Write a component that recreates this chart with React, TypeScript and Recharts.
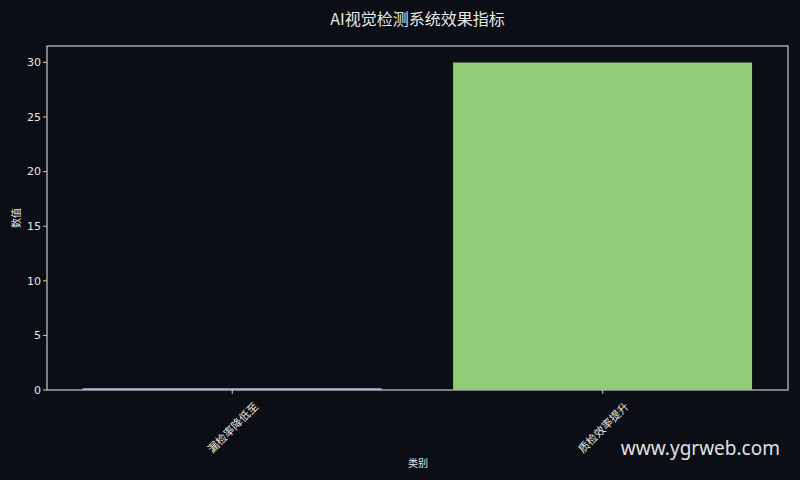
import React from "react";
import { BarChart, Bar, XAxis, YAxis, Cell } from "recharts";

const categories = ["漏检率降低至", "质检效率提升"];
const values = [0.15, 30];
const barColors = ["#a9b8ee", "#93cc77"];
const yTicks = [0, 5, 10, 15, 20, 25, 30];

const data = categories.map((name, i) => ({ name, value: values[i] }));

const BG = "#0b0e15";
const AXIS = "#c9c9c9";
const TEXT = "#e6e6e6";
const CJK = "'Noto Sans CJK SC', sans-serif";
const NUM = "'DejaVu Sans', 'Noto Sans CJK SC', sans-serif";

const XTick = (props: any) => {
  const { x, y, payload } = props;
  const cy = y + 31;
  return (
    <text
      x={x}
      y={cy}
      textAnchor="middle"
      dominantBaseline="central"
      fill={TEXT}
      fontSize={11}
      fontFamily={CJK}
      transform={`rotate(-45, ${x}, ${cy})`}
    >
      {payload.value}
    </text>
  );
};

export default function App() {
  return (
    <div style={{ position: "absolute", left: 0, top: 0, width: 800, height: 480, background: BG, overflow: "hidden" }}>
      <svg style={{ position: "absolute", left: 0, top: 0 }} width={800} height={480}>
        <rect x={47} y={46} width={741} height={344} fill="none" stroke={AXIS} strokeWidth={1.2} />
      </svg>
      <div style={{ position: "absolute", left: 0, top: 7, width: 835, textAlign: "center", color: TEXT, fontSize: 16, fontFamily: CJK, lineHeight: "22px" }}>
        AI视觉检测系统效果指标
      </div>
      <div style={{ position: "absolute", left: 0, top: 0 }}>
        <BarChart width={800} height={480} data={data} margin={{ top: 46, right: 12, bottom: 0, left: 0 }} barCategoryGap="9.6%">
          <XAxis
            dataKey="name"
            axisLine={false}
            tickLine={{ stroke: AXIS }}
            tickSize={4}
            height={90}
            tick={<XTick />}
            interval={0}
          />
          <YAxis
            domain={[0, 31.5]}
            ticks={yTicks}
            width={47}
            axisLine={false}
            tickLine={{ stroke: AXIS }}
            tickSize={4}
            tick={{ fill: TEXT, fontSize: 11, fontFamily: NUM }}
            allowDataOverflow
          />
          <Bar dataKey="value" isAnimationActive={false}>
            {data.map((d, i) => (
              <Cell key={d.name} fill={barColors[i]} />
            ))}
          </Bar>
        </BarChart>
      </div>
      <svg style={{ position: "absolute", left: 0, top: 0, pointerEvents: "none" }} width={800} height={480}>
        <text x={418} y={462} textAnchor="middle" dominantBaseline="central" fill={TEXT} fontSize={10} fontFamily={CJK}>
          类别
        </text>
        <text x={15} y={218} textAnchor="middle" dominantBaseline="central" fill={TEXT} fontSize={10} fontFamily={CJK} transform="rotate(-90, 15, 218)">
          数值
        </text>
        <text x={780} y={455} textAnchor="end" fill="#e0e0e0" fontSize={19} fontFamily="'Noto Sans', sans-serif">
          www.ygrweb.com
        </text>
      </svg>
    </div>
  );
}
